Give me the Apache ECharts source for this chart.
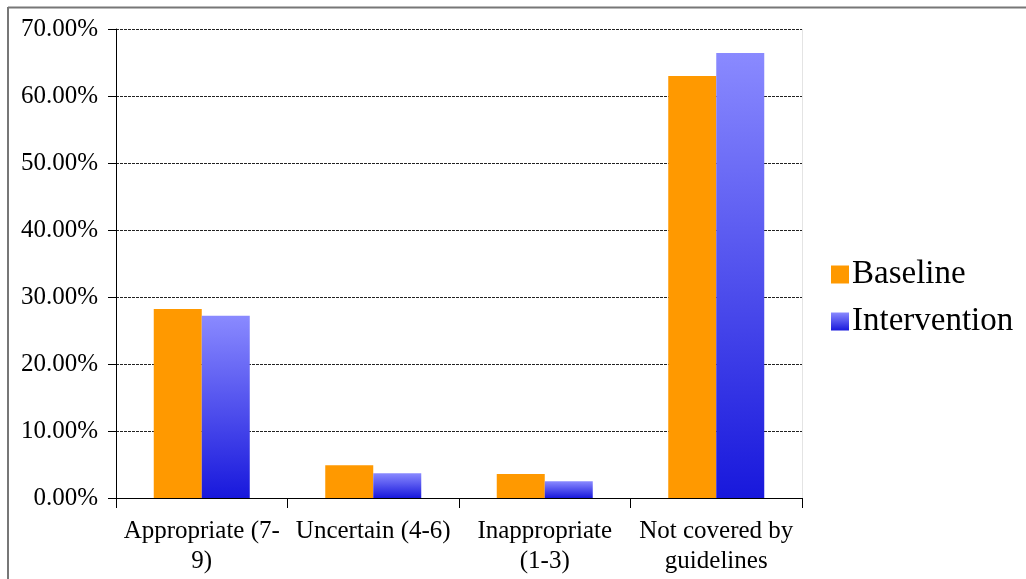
<!DOCTYPE html>
<html>
<head>
<meta charset="utf-8">
<script src="https://cdn.jsdelivr.net/npm/echarts@6/dist/echarts.min.js"></script>
<style>
html,body{margin:0;padding:0;background:#fff;}
#chart{width:1026px;height:579px;}
</style>
</head>
<body>
<div id="chart"></div>
<script>
const categories = ['Appropriate (7-\n9)', 'Uncertain (4-6)', 'Inappropriate\n(1-3)', 'Not covered by\nguidelines'];
const baseline = [28.2, 4.9, 3.6, 63.0];
const intervention = [27.2, 3.7, 2.5, 66.4];
const seriesNames = ['Baseline', 'Intervention'];

const font = 'Liberation Serif';
const blueGrad = new echarts.graphic.LinearGradient(0, 0, 0, 1, [
  {offset: 0, color: '#8a8aff'},
  {offset: 1, color: '#1818dc'}
]);

const chart = echarts.init(document.getElementById('chart'));
chart.setOption({
  animation: false,
  backgroundColor: '#fff',
  textStyle: {fontFamily: font},
  grid: {left: 116, right: 224, top: 29, bottom: 81, containLabel: false},
  legend: {
    orient: 'vertical',
    left: 826,
    top: 253,
    itemWidth: 18,
    itemHeight: 18,
    itemGap: 14,
    icon: 'rect',
    textStyle: {fontFamily: font, fontSize: 33, color: '#000', padding: [0,0,0,-2]},
    data: seriesNames
  },
  xAxis: {
    type: 'category',
    data: categories,
    axisLine: {lineStyle: {color: '#000', width: 1}},
    axisTick: {show: true, length: 10, alignWithLabel: false, lineStyle: {color: '#000'}},
    axisLabel: {fontFamily: font, fontSize: 25, color: '#000', margin: 18, lineHeight: 30, interval: 0},
    splitLine: {show: false}
  },
  yAxis: {
    type: 'value',
    min: 0, max: 70, interval: 10,
    axisLine: {show: true, lineStyle: {color: '#000', width: 1}},
    axisTick: {show: true, length: 8, lineStyle: {color: '#000'}},
    axisLabel: {fontFamily: font, fontSize: 25, color: '#000', margin: 18,
      formatter: v => v.toFixed(2) + '%'},
    splitLine: {show: true, lineStyle: {color: '#222', type: [3, 1], width: 1}}
  },
  series: [
    {name: seriesNames[0], type: 'bar', data: baseline, barWidth: 48, barGap: '0%',
      itemStyle: {color: '#ff9900'}},
    {name: seriesNames[1], type: 'bar', data: intervention, barWidth: 48, barGap: '0%',
      itemStyle: {color: blueGrad}}
  ],
  graphic: [
    {type: 'line', shape: {x1: 8, y1: 7.5, x2: 1026, y2: 7.5}, style: {stroke: '#777', lineWidth: 2}},
    {type: 'line', shape: {x1: 8, y1: 7, x2: 8, y2: 579}, style: {stroke: '#777', lineWidth: 2}},
    {type: 'line', shape: {x1: 802.5, y1: 29, x2: 802.5, y2: 498}, style: {stroke: '#e4e4e4', lineWidth: 1}}
  ]
});
</script>
</body>
</html>
